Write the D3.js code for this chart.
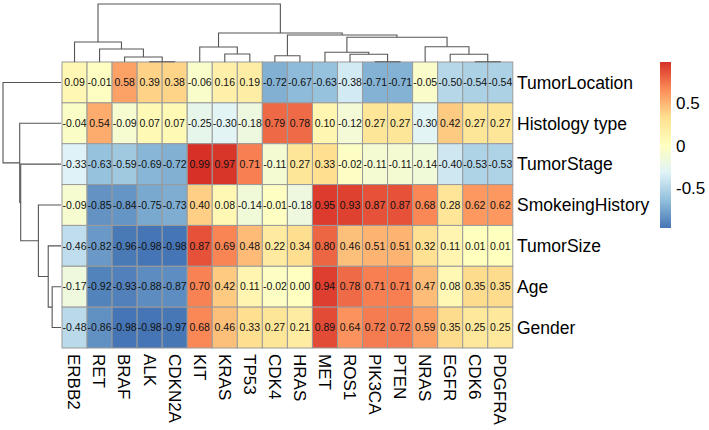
<!DOCTYPE html>
<html><head><meta charset="utf-8">
<script src="https://cdn.jsdelivr.net/npm/d3@7"></script>
<style>body{margin:0;background:#fff}svg{display:block}</style>
</head><body>
<svg id="chart" width="709" height="430"></svg>
<script>
const columns = ["ERBB2","RET","BRAF","ALK","CDKN2A","KIT","KRAS","TP53","CDK4","HRAS","MET","ROS1","PIK3CA","PTEN","NRAS","EGFR","CDK6","PDGFRA"];
const rows = ["TumorLocation","Histology type","TumorStage","SmokeingHistory","TumorSize","Age","Gender"];
const tumorLocation  = [0.09,-0.01,0.58,0.39,0.38,-0.06,0.16,0.19,-0.72,-0.67,-0.63,-0.38,-0.71,-0.71,-0.05,-0.50,-0.54,-0.54];
const histologyType  = [-0.04,0.54,-0.09,0.07,0.07,-0.25,-0.30,-0.18,0.79,0.78,0.10,-0.12,0.27,0.27,-0.30,0.42,0.27,0.27];
const tumorStage     = [-0.33,-0.63,-0.59,-0.69,-0.72,0.99,0.97,0.71,-0.11,0.27,0.33,-0.02,-0.11,-0.11,-0.14,-0.40,-0.53,-0.53];
const smokingHistory = [-0.09,-0.85,-0.84,-0.75,-0.73,0.40,0.08,-0.14,-0.01,-0.18,0.95,0.93,0.87,0.87,0.68,0.28,0.62,0.62];
const tumorSize      = [-0.46,-0.82,-0.96,-0.98,-0.98,0.87,0.69,0.48,0.22,0.34,0.80,0.46,0.51,0.51,0.32,0.11,0.01,0.01];
const age            = [-0.17,-0.92,-0.93,-0.88,-0.87,0.70,0.42,0.11,-0.02,0.00,0.94,0.78,0.71,0.71,0.47,0.08,0.35,0.35];
const gender         = [-0.48,-0.86,-0.98,-0.98,-0.97,0.68,0.46,0.33,0.27,0.21,0.89,0.64,0.72,0.72,0.59,0.35,0.25,0.25];
const legendTicks = [0.5, 0, -0.5];
const palette = ["#4575B4","#91BFDB","#E0F3F8","#FFFFBF","#FEE090","#FC8D59","#D73027"];
// cluster trees: h = merge height (arbitrary units), c = children
const colTree = {h:58, c:[
  {h:20, c:["ERBB2",{h:13, c:["RET",{h:5, c:["BRAF",{h:0.3, c:["ALK","CDKN2A"]}]}]}]},
  {h:29, c:[
    {h:15, c:["KIT",{h:8, c:["KRAS","TP53"]}]},
    {h:27, c:[
      {h:6.3, c:["CDK4","HRAS"]},
      {h:24.7, c:[
        {h:9.7, c:["MET",{h:7.7, c:["ROS1",{h:0.3, c:["PIK3CA","PTEN"]}]}]},
        {h:15.3, c:["NRAS",{h:7.7, c:["EGFR",{h:0.3, c:["CDK6","PDGFRA"]}]}]}
      ]}
    ]}
  ]}
]};
const rowTree = {h:59, c:["TumorLocation",{h:42, c:["Histology type",{h:41, c:["TumorStage",{h:23, c:["SmokeingHistory",{h:13, c:["TumorSize",{h:9, c:["Age","Gender"]}]}]}]}]}]};

const matrix = [tumorLocation, histologyType, tumorStage, smokingHistory, tumorSize, age, gender];
const cells = [];
matrix.forEach((vals, ri) => vals.forEach((v, ci) => cells.push({row: rows[ri], col: columns[ci], v})));

const allVals = matrix.flat();
const vmin = d3.min(allVals), vmax = d3.max(allVals);
const color = d3.scaleLinear()
  .domain(palette.map((_, i) => vmin + (vmax - vmin) * i / (palette.length - 1)))
  .range(palette).interpolate(d3.interpolateRgb);

const svg = d3.select("#chart");
const font = "'Liberation Sans', Arial, Helvetica, sans-serif";
const x = d3.scaleBand().domain(columns).range([62, 512.8]);
const y = d3.scaleBand().domain(rows).range([62, 348]);

// heatmap cells
const g = svg.append("g");
g.selectAll("rect").data(cells).join("rect")
  .attr("x", d => x(d.col)).attr("y", d => y(d.row))
  .attr("width", x.bandwidth()).attr("height", y.bandwidth())
  .attr("fill", d => color(d.v)).attr("stroke", "#9a9a9a").attr("stroke-width", 1);
g.selectAll("text").data(cells).join("text")
  .attr("x", d => x(d.col) + x.bandwidth() / 2).attr("y", d => y(d.row) + y.bandwidth() / 2)
  .attr("text-anchor", "middle").attr("dy", "0.36em")
  .attr("font-family", font).attr("font-size", 10.5).attr("fill", "#111")
  .text(d => d.v.toFixed(2));

// row labels
svg.append("g").selectAll("text").data(rows).join("text")
  .attr("x", 517).attr("y", d => y(d) + y.bandwidth() / 2).attr("dy", "0.36em")
  .attr("font-family", font).attr("font-size", 17.5).attr("fill", "#000").text(d => d);
// column labels
svg.append("g").selectAll("text").data(columns).join("text")
  .attr("transform", d => `translate(${x(d) + x.bandwidth() / 2},354) rotate(90)`)
  .attr("dy", "0.36em").attr("font-family", font).attr("font-size", 17).attr("fill", "#000").text(d => d);

// dendrograms
function layout(node, pos) {
  if (typeof node === "string") return {pos: pos(node), h: 0};
  const kids = node.c.map(k => layout(k, pos));
  const res = {pos: d3.mean(kids, k => k.pos), h: node.h, kids};
  return res;
}
function collect(n, out) { if (n.kids) { out.push(n); n.kids.forEach(k => collect(k, out)); } return out; }

const colH = d3.scaleLinear().domain([0, 58]).range([62, 4]);
const colRoot = layout(colTree, d => x(d) + x.bandwidth() / 2);
svg.append("g").selectAll("path").data(collect(colRoot, [])).join("path")
  .attr("d", n => `M${n.kids[0].pos},${colH(n.kids[0].h)}V${colH(n.h)}H${n.kids[1].pos}V${colH(n.kids[1].h)}`)
  .attr("fill", "none").attr("stroke", "#555").attr("stroke-width", 1.1);

const rowH = d3.scaleLinear().domain([0, 59]).range([61, 3]);
const rowRoot = layout(rowTree, d => y(d) + y.bandwidth() / 2);
svg.append("g").selectAll("path").data(collect(rowRoot, [])).join("path")
  .attr("d", n => `M${rowH(n.kids[0].h)},${n.kids[0].pos}H${rowH(n.h)}V${n.kids[1].pos}H${rowH(n.kids[1].h)}`)
  .attr("fill", "none").attr("stroke", "#555").attr("stroke-width", 1.1);

// legend
const ly = d3.scaleLinear().domain([vmin, vmax]).range([228, 62]);
const grad = svg.append("defs").append("linearGradient").attr("id", "lg")
  .attr("x1", 0).attr("y1", 1).attr("x2", 0).attr("y2", 0);
grad.selectAll("stop").data(color.domain()).join("stop")
  .attr("offset", d => (d - vmin) / (vmax - vmin)).attr("stop-color", d => color(d));
svg.append("rect").attr("x", 660).attr("y", ly(vmax)).attr("width", 11)
  .attr("height", ly(vmin) - ly(vmax)).attr("fill", "url(#lg)");
svg.append("g").selectAll("text").data(legendTicks).join("text")
  .attr("x", 676).attr("y", d => ly(d)).attr("dy", "0.36em")
  .attr("font-family", font).attr("font-size", 17).attr("fill", "#000").text(d => d);
</script>
</body></html>
